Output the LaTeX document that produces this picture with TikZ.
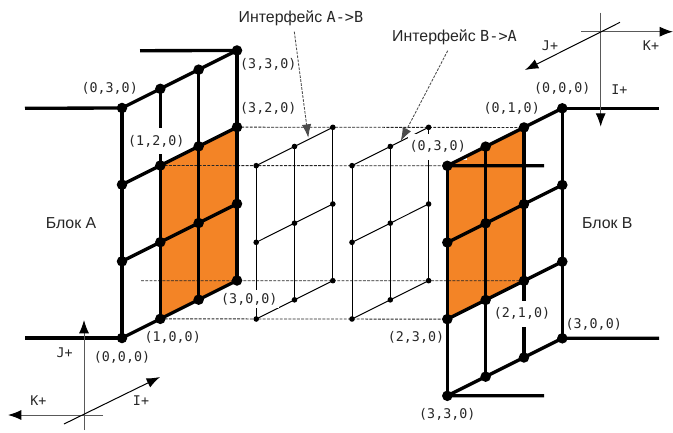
\documentclass[tikz,border=0pt]{standalone}
\usepackage{fontspec}
\setmainfont{Liberation Sans}
\newfontfamily\monof{DejaVu Sans Mono}
\usetikzlibrary{arrows.meta}
\definecolor{orangefill}{RGB}{243,132,38}
\tikzset{
  bigdot/.style={circle,fill=black,inner sep=0pt,minimum size=7.9pt},
  smalldot/.style={circle,fill=black,inner sep=0pt,minimum size=4.2pt},
  thickline/.style={line width=2.5pt},
  thinline/.style={line width=0.75pt},
  guide/.style={line width=0.65pt,black!85,dash pattern=on 2.2pt off 1pt},
  axisline/.style={line width=0.75pt,black!65,-{Latex[length=10pt,width=7.5pt,black]}},
  axisdiag/.style={line width=0.75pt,black,-{Latex[length=10pt,width=7.5pt,black]}},
  callout/.style={line width=0.65pt,black!70,dash pattern=on 2pt off 1pt,-{Latex[length=10pt,width=7pt,black!70]}},
  coord/.style={font=\monof\fontsize{10pt}{11pt}\selectfont,text=black!85,inner sep=0pt},
  coordmask/.style={coord,fill=white,minimum height=19.5pt,inner xsep=1pt},
  coordmasklow/.style={coord,fill=white,minimum height=13.5pt,inner xsep=1pt},
  blocktext/.style={font=\fontsize{11.9pt}{13pt}\selectfont,text=black!85,inner sep=0pt},
}
\newcommand{\ifacetext}[1]{\fontsize{11.9pt}{13pt}\selectfont Интерфейс {\monof\fontsize{11.4pt}{13pt}\selectfont #1}}
\begin{document}
\begin{tikzpicture}[x=0.75pt,y=-0.75pt]
\useasboundingbox (0,0) rectangle (673,432);

% positions
\foreach \i in {0,1,2,3}{\foreach \j in {0,1,2,3}{
  \pgfmathsetmacro\ax{122+38.33*\i}
  \pgfmathsetmacro\ay{338-19.17*\i-76.67*\j}
  \coordinate (pa\i\j) at (\ax,\ay);
  \pgfmathsetmacro\bx{562.3-38.33*\j}
  \pgfmathsetmacro\by{108.3+76.67*\i+19.17*\j}
  \coordinate (pb\i\j) at (\bx,\by);
}}
\foreach \i in {0,1,2}{\foreach \j in {0,1,2}{
  \pgfmathsetmacro\cx{256.2+38.3*\i}
  \pgfmathsetmacro\cy{319-19.17*\i-76.67*\j}
  \coordinate (pm\i\j) at (\cx,\cy);
  \pgfmathsetmacro\dx{352+38.3*\i}
  \coordinate (pn\i\j) at (\dx,\cy);
}}

% orange faces
\fill[orangefill] (pa10) -- (pa30) -- (pa32) -- (pa12) -- cycle;
\fill[orangefill] (pb01) -- (pb03) -- (pb23) -- (pb21) -- cycle;

% dashed guides
\draw[guide] (pa32) -- (pb01);
\draw[guide] (pa12) -- (pb03);
\coordinate (guidestart) at (141,280.7);
\draw[guide] (guidestart) -- (pb21);
\draw[guide] (pa10) -- (pb23);

% lines that pass behind the labels
\draw[thickline] (pa10) -- (pa13);
\draw[thickline] (pb01) -- (pb31);
\foreach \i in {0,1,2}{
  \draw[thinline] (pm\i0) -- (pm\i2);
  \draw[thinline] (pn\i0) -- (pn\i2);
  \draw[thinline] (pm0\i) -- (pm2\i);
  \draw[thinline] (pn0\i) -- (pn2\i);
}

% masked coordinate labels
\node[coordmask] (l120) at (156.3,141) {(1,2,0)};
\node[coordmasklow] (l300) at (249.3,299) {(3,0,0)};
\node[coordmask] (l030) at (437.7,146.5) {(0,3,0)};
\node[coordmask] (l210) at (522,313.5) {(2,1,0)};

% block A lines
\coordinate (aw0) at (25,338);
\coordinate (aw3) at (25,108.3);
\coordinate (ae3) at (140,50.7);
\draw[thickline] (aw0) -- (pa00);
\draw[thickline] (aw3) -- (pa03);
\draw[thickline] (ae3) -- (pa33);
\draw[thickline] (pa00) -- (pa03);
\draw[thickline] (pa20) -- (pa23);
\draw[thickline] (pa30) -- (pa33);
\foreach \j in {0,1,2,3}{\draw[thickline] (pa0\j) -- (pa3\j);}

% block B lines
\coordinate (be0) at (659,108.3);
\coordinate (be3) at (659,338.3);
\coordinate (bm0) at (544,165.7);
\coordinate (bm3) at (544,395.8);
\draw[thickline] (pb00) -- (be0);
\draw[thickline] (pb30) -- (be3);
\draw[thickline] (pb03) -- (bm0);
\draw[thickline] (pb33) -- (bm3);
\draw[thickline] (pb00) -- (pb30);
\draw[thickline] (pb02) -- (pb32);
\draw[thickline] (pb03) -- (pb33);
\foreach \i in {0,1,2,3}{\draw[thickline] (pb\i0) -- (pb\i3);}

% dots
\foreach \i in {0,1,2,3}{\foreach \j in {0,1,2,3}{
  \node[bigdot] (a\i\j) at (pa\i\j) {};
  \node[bigdot] (b\i\j) at (pb\i\j) {};
}}
\foreach \i in {0,1,2}{\foreach \j in {0,1,2}{
  \node[smalldot] (m\i\j) at (pm\i\j) {};
  \node[smalldot] (n\i\j) at (pn\i\j) {};
}}

% other coordinate labels
\node[coord] (l030a) at (109.7,88.7) {(0,3,0)};
\node[coord] (l330a) at (268.3,64.7) {(3,3,0)};
\node[coord] (l320a) at (268.3,108.3) {(3,2,0)};
\node[coord] (l100a) at (172.7,337.3) {(1,0,0)};
\node[coord] (l000a) at (122,357.7) {(0,0,0)};
\node[coord] (l000b) at (562.3,88.3) {(0,0,0)};
\node[coord] (l010b) at (511.7,108.3) {(0,1,0)};
\node[coord] (l300b) at (593.7,324.7) {(3,0,0)};
\node[coord] (l230b) at (416,337.7) {(2,3,0)};
\node[coord] (l330b) at (447.3,414.3) {(3,3,0)};

% block names
\node[blocktext] (blocka) at (71,222.7) {Блок А};
\node[blocktext] (blockb) at (607.3,222.7) {Блок B};

% interface callouts
\node[inner sep=0pt,text=black!85] (ifab) at (301,18) {\ifacetext{A->B}};
\node[inner sep=0pt,text=black!85] (ifba) at (454.5,37.7) {\ifacetext{B->A}};
\coordinate (ifabs) at (294.3,31.7);
\coordinate (ifabt) at (308.3,137.7);
\coordinate (ifbas) at (447.7,50.7);
\coordinate (ifbat) at (400.7,141);
\draw[callout] (ifabs) -- (ifabt);
\draw[callout] (ifbas) -- (ifbat);

% left axes
\coordinate (lxa) at (84,430);
\coordinate (lxb) at (84,320);
\coordinate (lya) at (103,415);
\coordinate (lyb) at (8,415);
\coordinate (lza) at (64,424);
\coordinate (lzb) at (160,377);
\draw[axisline] (lxa) -- (lxb);
\draw[axisline] (lya) -- (lyb);
\draw[axisdiag] (lza) -- (lzb);
\node[coord] (lj) at (64.7,352.7) {J+};
\node[coord] (lk) at (38.3,401) {K+};
\node[coord] (li) at (141,401) {I+};

% right axes
\coordinate (rxa) at (600.7,12.7);
\coordinate (rxb) at (600.7,126.7);
\coordinate (rya) at (581,31.7);
\coordinate (ryb) at (673,31.7);
\coordinate (rza) at (620,22.3);
\coordinate (rzb) at (525,70);
\draw[axisline] (rxa) -- (rxb);
\draw[axisline] (rya) -- (ryb);
\draw[axisdiag] (rza) -- (rzb);
\node[coord] (rj) at (550,45.7) {J+};
\node[coord] (rk) at (651,45.7) {K+};
\node[coord] (ri) at (619.3,89.3) {I+};
\end{tikzpicture}
\end{document}
